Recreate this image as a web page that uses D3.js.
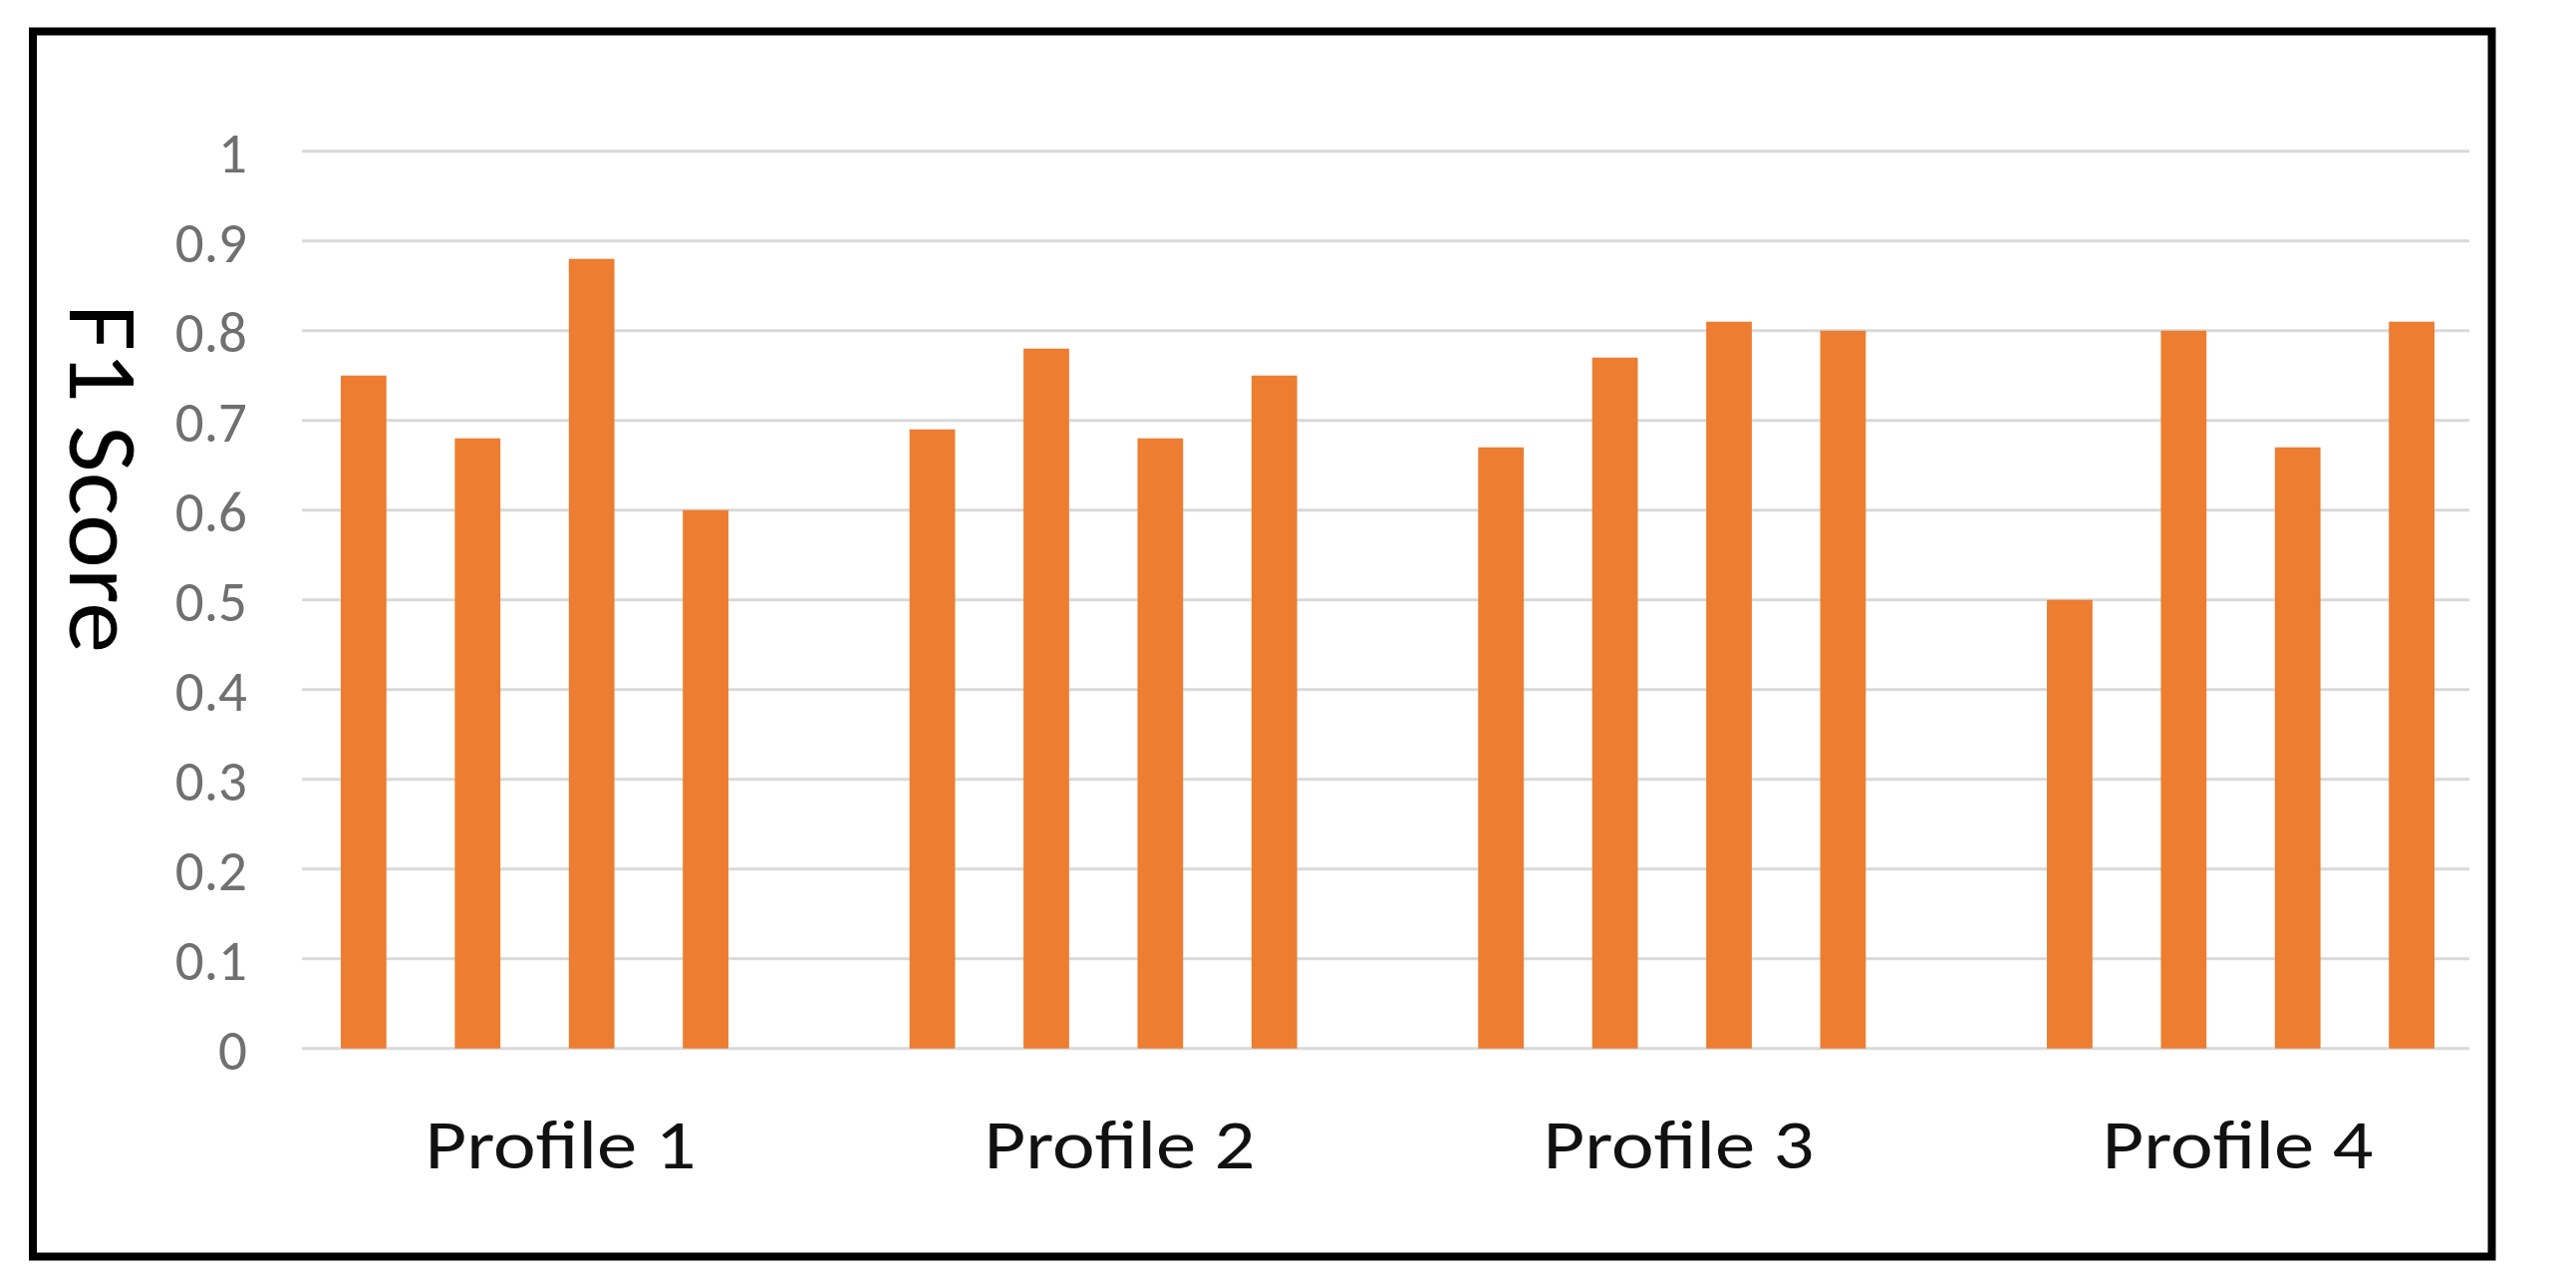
<!DOCTYPE html>
<html>
<head>
<meta charset="utf-8">
<script src="https://cdn.jsdelivr.net/npm/d3@7"></script>
<style>
  html, body { margin: 0; padding: 0; background: #ffffff; }
  svg { display: block; }
</style>
</head>
<body>
<svg id="chart" width="2585" height="1289"></svg>
<script>
// ---- data ----
const categories = ["Profile 1", "Profile 2", "Profile 3", "Profile 4"];
const seriesNames = ["S1", "S2", "S3", "S4"];
const series1 = [0.75, 0.69, 0.67, 0.50];
const series2 = [0.68, 0.78, 0.77, 0.80];
const series3 = [0.88, 0.68, 0.81, 0.67];
const series4 = [0.60, 0.75, 0.80, 0.81];
const yTicks = [0, 0.1, 0.2, 0.3, 0.4, 0.5, 0.6, 0.7, 0.8, 0.9, 1];
const yTickLabels = ["0", "0.1", "0.2", "0.3", "0.4", "0.5", "0.6", "0.7", "0.8", "0.9", "1"];
const yTitle = "F1 Score";

const allSeries = [series1, series2, series3, series4];

// ---- layout ----
const W = 2585, H = 1289;
const plotLeft = 303, plotRight = 2478;
const yBottom = 1051.7, yTop = 151.7;
const FONT = "Carlito, Calibri, Lato, 'Open Sans', sans-serif";

const svg = d3.select("#chart");
svg.append("rect").attr("x", 0).attr("y", 0).attr("width", W).attr("height", H).attr("fill", "#ffffff");

// outer frame
svg.append("rect")
  .attr("x", 33).attr("y", 31.5)
  .attr("width", 2467.5).attr("height", 1229)
  .attr("fill", "none").attr("stroke", "#000").attr("stroke-width", 8);

const y = d3.scaleLinear().domain([0, 1]).range([yBottom, yTop]);

const x0 = d3.scaleBand().domain(categories)
  .range([342, 2443]).paddingInner(0.3184).paddingOuter(0);
const x1 = d3.scaleBand().domain(seriesNames)
  .range([0, x0.bandwidth()]).paddingInner(0.6).paddingOuter(0);

// gridlines
svg.append("g").selectAll("line").data(yTicks).join("line")
  .attr("x1", plotLeft).attr("x2", plotRight)
  .attr("y1", d => y(d)).attr("y2", d => y(d))
  .attr("stroke", "#d9d9d9").attr("stroke-width", 3);

// y axis labels
const yAxis = d3.axisLeft(y).tickValues(yTicks)
  .tickFormat((d, i) => yTickLabels[i]).tickSize(0).tickPadding(0);
const gy = svg.append("g").attr("transform", "translate(248,0)").call(yAxis);
gy.select(".domain").remove();
gy.selectAll("text")
  .attr("x", 0)
  .attr("dy", "0.36em")
  .attr("font-family", FONT)
  .attr("font-size", 57)
  .attr("fill", "#707070");

// bars
const groups = svg.append("g").selectAll("g").data(categories).join("g")
  .attr("transform", d => `translate(${x0(d)},0)`);
groups.selectAll("rect")
  .data((c, ci) => seriesNames.map((s, si) => ({ s, v: allSeries[si][ci] })))
  .join("rect")
  .attr("x", d => x1(d.s))
  .attr("width", x1.bandwidth())
  .attr("y", d => y(d.v))
  .attr("height", d => y(0) - y(d.v))
  .attr("fill", "#ED7D31");

// category labels
const xLabel = d3.scalePoint().domain(categories).range([562, 2245]);
const xAxis = d3.axisBottom(xLabel).tickSize(0).tickPadding(0);
const gx = svg.append("g").attr("transform", "translate(0,1171.7)").call(xAxis);
gx.select(".domain").remove();
gx.selectAll("text")
  .attr("y", 0).attr("dy", 0)
  .attr("font-family", FONT)
  .attr("font-size", 70)
  .attr("fill", "#111")
  .attr("textLength", 272)
  .attr("lengthAdjust", "spacingAndGlyphs");

// y title
svg.append("text")
  .attr("transform", "translate(70,305) rotate(90)")
  .attr("text-anchor", "start")
  .attr("font-family", FONT)
  .attr("font-size", 98)
  .attr("fill", "#000")
  .attr("textLength", 350)
  .attr("lengthAdjust", "spacingAndGlyphs")
  .text(yTitle);
</script>
</body>
</html>
